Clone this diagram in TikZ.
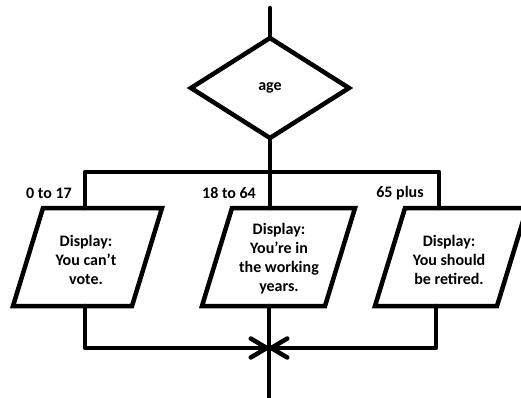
\documentclass[tikz,border=0pt]{standalone}
\usepackage{fontspec}
\setmainfont{Carlito}
\usetikzlibrary{arrows.meta}
\begin{document}
\begin{tikzpicture}[x=1pt,y=-1pt,
  line/.style={line width=4.5pt,line cap=round,line join=round},
  shapeline/.style={line width=4.5pt,line join=miter},
  txt/.style={font=\bfseries\fontsize{16}{19}\selectfont,align=center,inner sep=0pt},
  lbl/.style={font=\bfseries\fontsize{16}{19}\selectfont,inner sep=0pt},
  arr/.style={-{Straight Barb[length=16pt,width=19pt,line cap=round,line join=round]}}]
\useasboundingbox (0,0) rectangle (521,398);
% coordinates
\coordinate (start) at (270,8);
\coordinate (dT) at (270,38);
\coordinate (dB) at (270,138);
\coordinate (dL) at (191,88);
\coordinate (dR) at (349,88);
\coordinate (split) at (270,172);
\coordinate (sL) at (85,172);
\coordinate (sR) at (439,172);
\coordinate (inL) at (85,208);
\coordinate (inM) at (270,208);
\coordinate (inR) at (439,208);
\coordinate (outL) at (85,306);
\coordinate (outM) at (269,306);
\coordinate (outR) at (436,306);
\coordinate (jL) at (85,348);
\coordinate (jR) at (436,348);
\coordinate (join) at (269,348);
\coordinate (endpt) at (269,400);
% diamond
\draw[shapeline] (dT) -- (dR) -- (dB) -- (dL) -- cycle;
\node[txt] (age) at (270,88) {age};
% parallelograms
\draw[shapeline] (43,208) -- (162,208) -- (132,306) -- (13,306) -- cycle;
\draw[shapeline] (232,208) -- (355,208) -- (325,306) -- (202,306) -- cycle;
\draw[shapeline] (405,208) -- (527,208) -- (497,306) -- (375,306) -- cycle;
\node[txt] (p1) at (86,260) {Display:\\You can’t\\vote.};
\node[txt] (p2) at (279,259) {Display:\\You’re in\\the working\\years.};
\node[txt] (p3) at (449,260) {Display:\\You should\\be retired.};
% labels
\node[lbl] (l1) at (49,193) {0 to 17};
\node[lbl] (l2) at (229,193) {18 to 64};
\node[lbl] (l3) at (400,193) {65 plus};
% connectors
\draw[line] (start) -- (dT);
\draw[line] (dB) -- (split);
\draw[line] (inL) -- (sL) -- (sR) -- (inR);
\draw[line] (split) -- (inM);
\draw[line,arr] (outL) -- (jL) -- (join);
\draw[line,arr] (outR) -- (jR) -- (join);
\draw[line] (outM) -- (endpt);
\end{tikzpicture}
\end{document}
